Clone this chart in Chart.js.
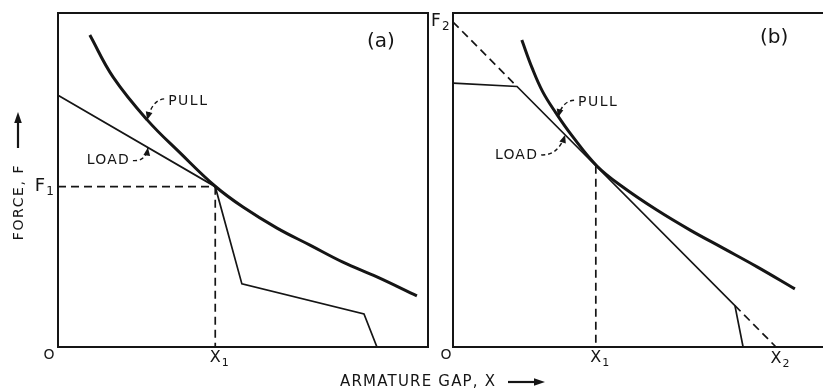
<!DOCTYPE html>
<html>
<head>
<meta charset="utf-8">
<script src="https://cdn.jsdelivr.net/npm/chart.js@4.4.1/dist/chart.umd.min.js"></script>
<style>
  html, body { margin: 0; padding: 0; background: #fff; overflow: hidden; }
  #wrap { position: relative; width: 823px; height: 391px; }
  canvas { position: absolute; left: 0; top: 0; }
</style>
</head>
<body>
<div id="wrap">
  <canvas id="chartA" width="823" height="391"></canvas>
  <canvas id="chartB" width="880" height="391"></canvas>
</div>
<script>
// ---- panel (a): magnet pull vs. stepped spring load ----
const pullA = [[0.86, 9.34], [1.49, 8.08], [2.41, 6.80], [3.30, 5.81], [4.24, 4.82], [5.00, 4.19],
               [5.92, 3.56], [6.81, 3.05], [7.70, 2.54], [8.62, 2.10], [9.70, 1.53]];
const loadA = [[0, 7.54], [4.25, 4.80], [4.97, 1.89], [8.27, 0.99], [8.62, 0]];
const x1A = 4.25;
const f1A = 4.80;

// ---- panel (b): load following the F2-X2 line ----
const pullB = [[1.86, 9.19], [2.14, 8.35], [2.43, 7.63], [2.78, 7.01], [3.22, 6.32], [3.89, 5.42],
               [4.59, 4.79], [5.51, 4.10], [6.41, 3.50], [7.30, 2.96], [8.22, 2.40], [9.24, 1.74]];
const loadB = [[0, 7.90], [1.73, 7.80], [7.62, 1.24], [7.84, 0]];
const x1B = 3.86;
const f1B = 5.43;
const f2B = 9.73;
const x2B = 8.73;

const INK = '#151515';
const FONT = '"DejaVu Sans", sans-serif';

const pts = arr => arr.map(([x, y]) => ({ x, y }));

function curve(data) {
  return { data: pts(data), showLine: true, borderColor: INK, borderWidth: 3,
           pointRadius: 0, tension: 0.4 };
}
function solid(data) {
  return { data: pts(data), showLine: true, borderColor: INK, borderWidth: 1.7,
           pointRadius: 0, tension: 0 };
}
function dashed(data) {
  return { data: pts(data), showLine: true, borderColor: INK, borderWidth: 1.7,
           borderDash: [8, 5], pointRadius: 0, tension: 0 };
}

function arrowHead(ctx, tx, ty, fx, fy, len, half) {
  const a = Math.atan2(ty - fy, tx - fx);
  ctx.beginPath();
  ctx.moveTo(tx, ty);
  ctx.lineTo(tx - len * Math.cos(a) + half * Math.sin(a), ty - len * Math.sin(a) - half * Math.cos(a));
  ctx.lineTo(tx - len * Math.cos(a) - half * Math.sin(a), ty - len * Math.sin(a) + half * Math.cos(a));
  ctx.closePath();
  ctx.fill();
}

function text(ctx, s, x, y, size, align, spacing) {
  ctx.font = size + 'px ' + FONT;
  ctx.textAlign = align || 'left';
  ctx.textBaseline = 'middle';
  ctx.letterSpacing = (spacing || 0) + 'px';
  ctx.fillText(s, x, y);
  ctx.letterSpacing = '0px';
}

// letter with a small subscript, x is the centre of the main letter
function subLabel(ctx, main, sub, x, y, size) {
  text(ctx, main, x, y, size, 'center');
  ctx.font = size + 'px ' + FONT;
  const w = ctx.measureText(main).width;
  text(ctx, sub, x + w / 2 + 1, y + 5, Math.round(size * 0.68), 'left');
}

// dashed curved leader from a word to a point on a line
function callout(ctx, chart, c) {
  const tx = chart.scales.x.getPixelForValue(c.at[0]);
  const ty = chart.scales.y.getPixelForValue(c.at[1]);
  const sx = tx + c.start[0], sy = ty + c.start[1];
  const cx = tx + c.ctrl[0], cy = ty + c.ctrl[1];
  ctx.save();
  ctx.strokeStyle = INK;
  ctx.fillStyle = INK;
  ctx.lineWidth = 1.4;
  ctx.setLineDash([4, 3]);
  ctx.beginPath();
  ctx.moveTo(sx, sy);
  ctx.quadraticCurveTo(cx, cy, tx, ty);
  ctx.stroke();
  ctx.setLineDash([]);
  arrowHead(ctx, tx, ty, cx, cy, 8, 3.4);
  if (c.align === 'left') text(ctx, c.label, sx + 4, sy + 2, 14, 'left', 1.5);
  else text(ctx, c.label, sx - 3, sy, 14, 'right', 1.2);
  ctx.restore();
}

const framePlugin = {
  id: 'frame',
  beforeDatasetsDraw(chart) {
    const { ctx, chartArea: a } = chart;
    ctx.save();
    ctx.strokeStyle = INK;
    ctx.lineWidth = 2;
    ctx.strokeRect(a.left, a.top, a.right - a.left, a.bottom - a.top);
    ctx.restore();
  }
};

function marksPlugin(draw) {
  return {
    id: 'marks',
    afterDraw(chart) {
      const ctx = chart.ctx;
      ctx.save();
      ctx.fillStyle = INK;
      ctx.strokeStyle = INK;
      draw(chart, ctx, chart.scales.x, chart.scales.y);
      ctx.restore();
    }
  };
}

function makeChart(id, padding, xMax, datasets, draw) {
  return new Chart(document.getElementById(id), {
    type: 'scatter',
    data: { datasets },
    options: {
      responsive: false,
      animation: false,
      devicePixelRatio: 1,
      layout: { padding },
      plugins: { legend: { display: false }, tooltip: { enabled: false } },
      scales: {
        x: { type: 'linear', min: 0, max: xMax, display: false },
        y: { type: 'linear', min: 0, max: 10, display: false }
      }
    },
    plugins: [framePlugin, marksPlugin(draw)]
  });
}

makeChart('chartA', { left: 58, right: 395, top: 13, bottom: 44 }, 10, [
  curve(pullA),
  solid(loadA),
  dashed([[0, f1A], [x1A, f1A]]),
  dashed([[x1A, f1A], [x1A, 0]])
], (chart, ctx, xs, ys) => {
  text(ctx, 'O', xs.left - 9, ys.bottom + 8, 14, 'center');
  subLabel(ctx, 'F', '1', xs.left - 18, ys.getPixelForValue(f1A), 18);
  subLabel(ctx, 'X', '1', xs.getPixelForValue(x1A), ys.bottom + 11, 16);
  text(ctx, '(a)', xs.right - 61, ys.top + 29, 20, 'left');
  callout(ctx, chart, { label: 'PULL', at: [2.41, 6.80], start: [17, -21], ctrl: [5, -20], align: 'left' });
  callout(ctx, chart, { label: 'LOAD', at: [2.43, 5.97], start: [-15, 13], ctrl: [-2, 14], align: 'right' });

  // shared axis titles
  ctx.save();
  ctx.translate(19, 202);
  ctx.rotate(-Math.PI / 2);
  text(ctx, 'FORCE, F', 0, 0, 14, 'center', 1.6);
  ctx.restore();
  ctx.lineWidth = 2.2;
  ctx.beginPath();
  ctx.moveTo(18, 148);
  ctx.lineTo(18, 120);
  ctx.stroke();
  arrowHead(ctx, 18, 112, 18, 148, 11, 3.8);

  text(ctx, 'ARMATURE GAP, X', 340, 382, 15, 'left', 1.2);
  ctx.beginPath();
  ctx.moveTo(508, 382);
  ctx.lineTo(537, 382);
  ctx.stroke();
  arrowHead(ctx, 545, 382, 508, 382, 11, 3.8);
});

makeChart('chartB', { left: 453, right: 20, top: 13, bottom: 44 }, 11, [
  curve(pullB),
  solid(loadB),
  dashed([[0, f2B], loadB[1]]),
  dashed([loadB[2], [x2B, 0]]),
  dashed([[x1B, f1B], [x1B, 0]])
], (chart, ctx, xs, ys) => {
  text(ctx, 'O', xs.left - 7, ys.bottom + 8, 14, 'center');
  subLabel(ctx, 'F', '2', xs.left - 17, ys.getPixelForValue(f2B), 17);
  subLabel(ctx, 'X', '1', xs.getPixelForValue(x1B), ys.bottom + 11, 16);
  subLabel(ctx, 'X', '2', xs.getPixelForValue(x2B), ys.bottom + 12, 16);
  text(ctx, '(b)', 760, ys.top + 25, 20, 'left');
  callout(ctx, chart, { label: 'PULL', at: [2.84, 6.88], start: [16, -17], ctrl: [4, -16], align: 'left' });
  callout(ctx, chart, { label: 'LOAD', at: [3.03, 6.35], start: [-24, 20], ctrl: [-7, 21], align: 'right' });
});
</script>
</body>
</html>
